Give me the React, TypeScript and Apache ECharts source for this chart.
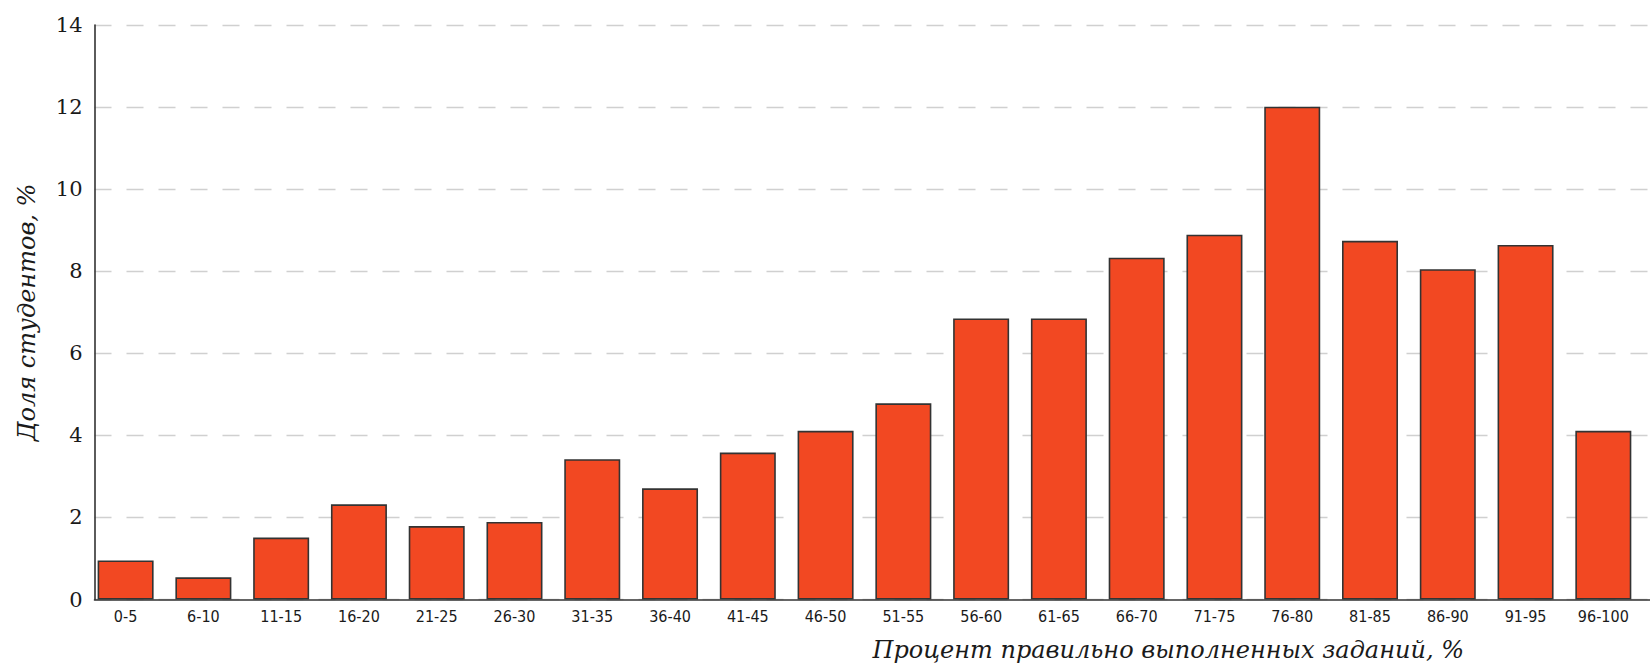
import React, { useEffect, useRef } from "react";
import * as echarts from "echarts";

const categories = [
  "0-5", "6-10", "11-15", "16-20", "21-25", "26-30", "31-35", "36-40", "41-45", "46-50",
  "51-55", "56-60", "61-65", "66-70", "71-75", "76-80", "81-85", "86-90", "91-95", "96-100",
];
const shares = [
  0.95, 0.54, 1.51, 2.32, 1.79, 1.89, 3.42, 2.71, 3.58, 4.11,
  4.78, 6.85, 6.85, 8.33, 8.89, 12.01, 8.74, 8.05, 8.64, 4.11,
];
const yTicks = [0, 2, 4, 6, 8, 10, 12, 14];

export default function App() {
  const ref = useRef<HTMLDivElement>(null);
  useEffect(() => {
    if (!ref.current) return;
    const chart = echarts.init(ref.current, null, { renderer: "svg" });
    const idx = categories.map((_, i) => i);
    chart.setOption({
      animation: false,
      backgroundColor: "#ffffff",
      grid: { left: 94.5, top: 25, right: 0, bottom: 65.5, containLabel: false },
      xAxis: {
        type: "value",
        min: -0.4,
        max: 19.6,
        name: "Процент правильно выполненных заданий, %",
        nameLocation: "middle",
        nameGap: 38.5,
        nameTextStyle: {
          fontFamily: "DejaVu Serif",
          fontStyle: "italic",
          fontSize: 24,
          color: "#1a1a1a",
          padding: [0, 0, 0, 592],
        },
        axisLine: { show: true, onZero: false, lineStyle: { color: "#333", width: 1.6 } },
        axisTick: { show: false },
        splitLine: { show: false },
        axisLabel: {
          customValues: idx,
          formatter: (v: number) => categories[Math.round(v)] ?? "",
          fontFamily: "DejaVu Sans Condensed, DejaVu Sans",
          fontStretch: "condensed",
          fontSize: 16,
          color: "#1a1a1a",
          margin: 8.5,
        },
      },
      yAxis: {
        type: "value",
        min: 0,
        max: 14,
        interval: 2,
        name: "Доля студентов, %",
        nameLocation: "middle",
        nameGap: 55.5,
        nameTextStyle: {
          fontFamily: "DejaVu Serif",
          fontStyle: "italic",
          fontSize: 24,
          color: "#1a1a1a",
        },
        axisLine: { show: true, onZero: false, lineStyle: { color: "#333", width: 1.6 } },
        axisTick: { show: false },
        axisLabel: {
          customValues: yTicks,
          fontFamily: "DejaVu Serif",
          fontSize: 21,
          color: "#1a1a1a",
          margin: 12,
        },
        splitLine: {
          show: true,
          lineStyle: { color: "#d0d0d0", type: [17, 15], width: 1.3 },
        },
      },
      series: [
        {
          type: "bar",
          data: shares.map((v, i) => [i, v]),
          barWidth: 56,
          itemStyle: { color: "#f24822", borderColor: "#333333", borderWidth: 1.6 },
        },
      ],
    });
    return () => chart.dispose();
  }, []);
  return (
    <div
      ref={ref}
      style={{ position: "fixed", left: 0, top: 0, width: 1650, height: 667, background: "#fff" }}
    />
  );
}
